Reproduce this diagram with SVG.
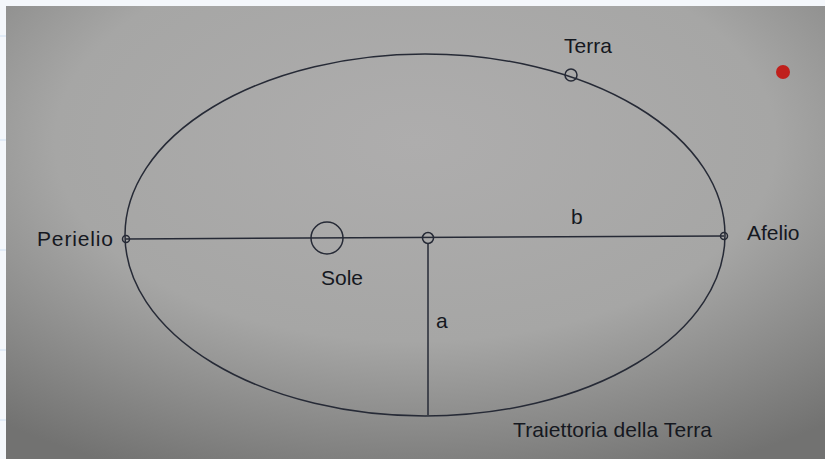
<svg xmlns="http://www.w3.org/2000/svg" width="825" height="459" viewBox="0 0 825 459">
  <defs>
    <radialGradient id="bg" cx="0.5" cy="0.3" r="0.8">
      <stop offset="0" stop-color="#aeadad"/>
      <stop offset="0.55" stop-color="#a6a6a5"/>
      <stop offset="1" stop-color="#727271"/>
    </radialGradient>
    <style>
      .ln { fill: none; stroke: #262a36; stroke-width: 1.5; }
      .pt { fill: none; stroke: #262a36; stroke-width: 1.5; }
      .lbl { font-family: "Liberation Sans", Arial, sans-serif; font-size: 21px; fill: #15181f; }
    </style>
  </defs>
  <rect x="0" y="0" width="825" height="459" fill="#f4f7fb"/>
  <g stroke="#cfe0f3" stroke-width="1">
    <line x1="0" y1="36" x2="6" y2="36"/><line x1="0" y1="140" x2="6" y2="140"/><line x1="0" y1="250" x2="6" y2="250"/><line x1="0" y1="350" x2="6" y2="350"/><line x1="0" y1="420" x2="6" y2="420"/>
  </g>
  <rect x="6" y="6" width="819" height="453" fill="url(#bg)"/>

  <g id="ellipse-orbit">
    <ellipse class="ln" cx="425" cy="235" rx="300" ry="181"/>
  </g>

  <g id="connectors">
    <line class="ln" x1="126" y1="239" x2="724" y2="236"/>
    <line class="ln" x1="428" y1="243" x2="428" y2="415"/>
  </g>

  <g id="perielio">
    <circle class="pt" cx="126" cy="239" r="3.5"/>
    <text class="lbl" x="37" y="246" textLength="76">Perielio</text>
  </g>
  <g id="afelio">
    <circle class="pt" cx="724" cy="236" r="3.5"/>
    <text class="lbl" x="747" y="240">Afelio</text>
  </g>
  <g id="sole">
    <circle class="pt" cx="327" cy="238" r="16"/>
    <text class="lbl" x="321" y="285">Sole</text>
  </g>
  <g id="centro">
    <circle class="pt" cx="428" cy="238" r="5.5"/>
  </g>
  <g id="terra">
    <circle class="pt" cx="571" cy="75" r="6"/>
    <text class="lbl" x="564" y="53">Terra</text>
  </g>
  <g id="label-b">
    <text class="lbl" x="571" y="224">b</text>
  </g>
  <g id="label-a">
    <text class="lbl" x="436" y="328">a</text>
  </g>
  <g id="label-traiettoria">
    <text class="lbl" x="513" y="437" textLength="199">Traiettoria della Terra</text>
  </g>
  <g id="red-dot">
    <circle cx="783" cy="72" r="7" fill="#c0201c"/>
  </g>
</svg>
